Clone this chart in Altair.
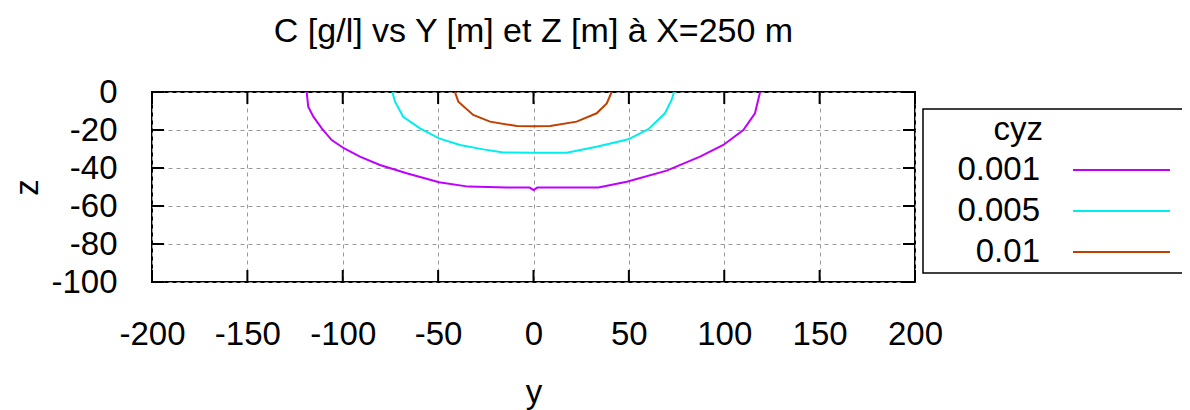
import altair as alt
import pandas as pd

title_text = "C [g/l] vs Y [m] et Z [m] à X=250 m"
levels = ["0.001", "0.005", "0.01"]
colors = ["#c000ff", "#00eeee", "#c04000"]
x_ticks = [-200, -150, -100, -50, 0, 50, 100, 150, 200]
z_ticks = [-100, -80, -60, -40, -20, 0]

# contour 0.001
y_001 = [-118.9, -118.1, -115.4, -111.0, -105.8, -99.4, -91.0, -80.5, -66.5, -49.5, -34.2, -14.0,
         -2.0, 0.0, 2.0, 14.0, 34.0, 48.9, 69.8, 87.3, 99.5, 110.0, 116.1, 118.8]
z_001 = [0.0, -7.7, -13.0, -19.1, -25.3, -29.6, -34.0, -38.4, -42.8, -47.5, -49.8, -50.2,
         -50.3, -51.6, -50.3, -50.2, -50.2, -47.2, -41.4, -34.0, -27.9, -20.0, -11.2, 0.0]
# contour 0.005
y_005 = [-74.0, -72.6, -68.3, -59.5, -49.5, -38.5, -26.3, -15.8, 0.0, 17.4, 33.1, 49.7, 60.2, 68.9, 72.4, 73.7]
z_005 = [0.0, -5.1, -13.0, -19.1, -24.4, -27.9, -30.2, -31.8, -32.0, -32.0, -28.8, -24.9, -19.6, -11.2, -4.2, 0.0]
# contour 0.01
y_01 = [-41.2, -39.4, -31.6, -22.8, -8.8, 0.0, 8.7, 22.6, 33.1, 38.4, 41.0]
z_01 = [0.0, -5.1, -12.1, -15.6, -17.9, -18.0, -17.9, -15.6, -11.2, -6.0, 0.0]

rows = []
for lev, ys, zs in zip(levels, [y_001, y_005, y_01], [z_001, z_005, z_01]):
    for i, (yv, zv) in enumerate(zip(ys, zs)):
        rows.append({"level": lev, "y": yv, "z": zv, "idx": i})
df = pd.DataFrame(rows)

FONT = "Liberation Sans"
FS = 33
W, H = 763, 190

xscale = alt.Scale(domain=[-200, 200], nice=False, zero=False)
zscale = alt.Scale(domain=[-100, 0], nice=False, zero=False)

grid_common = dict(grid=True, gridDash=[4, 4], gridColor="#999999", gridWidth=1,
                   domain=False, ticks=False, labelFont=FONT, labelFontSize=FS,
                   labelColor="black", titleFont=FONT, titleFontSize=FS,
                   titleFontWeight="normal", titleColor="black",
                   labelFlush=False, labelOverlap=False,
                   labelExpr="'' + datum.value")

x_axis = alt.Axis(values=x_ticks, title="y", labelPadding=36,
                  titleY=120, titleBaseline="alphabetic", **grid_common)
y_axis = alt.Axis(values=z_ticks, title="z", labelPadding=35,
                  titleX=-115, titleY=95, titleBaseline="alphabetic", **grid_common)

lines = alt.Chart(df).mark_line(strokeWidth=2).encode(
    x=alt.X("y:Q", scale=xscale, axis=x_axis),
    y=alt.Y("z:Q", scale=zscale, axis=y_axis),
    color=alt.Color("level:N", scale=alt.Scale(domain=levels, range=colors), legend=None),
    order="idx:Q",
)

xt = pd.DataFrame({"y": x_ticks})
zt = pd.DataFrame({"z": z_ticks})
tick_style = dict(color="black", strokeWidth=2)
tb = alt.Chart(xt).mark_rule(**tick_style).encode(
    x=alt.X("y:Q", scale=xscale, axis=x_axis), y=alt.value(H), y2=alt.value(H - 12))
tt = alt.Chart(xt).mark_rule(**tick_style).encode(
    x=alt.X("y:Q", scale=xscale, axis=x_axis), y=alt.value(0), y2=alt.value(12))
tl = alt.Chart(zt).mark_rule(**tick_style).encode(
    y=alt.Y("z:Q", scale=zscale, axis=y_axis), x=alt.value(0), x2=alt.value(12))
tr = alt.Chart(zt).mark_rule(**tick_style).encode(
    y=alt.Y("z:Q", scale=zscale, axis=y_axis), x=alt.value(W), x2=alt.value(W - 12))

one = pd.DataFrame({"a": [0]})
title_mark = alt.Chart(one).mark_text(font=FONT, fontSize=34, align="center", baseline="alphabetic",
                                      color="black").encode(
    x=alt.value(W / 2), y=alt.value(-50), text=alt.value(title_text))
box = alt.Chart(one).mark_rect(fill="white", stroke="black", strokeWidth=1.5).encode(
    x=alt.value(771), x2=alt.value(1035), y=alt.value(17), y2=alt.value(181))
ktitle = alt.Chart(one).mark_text(font=FONT, fontSize=FS, align="right", baseline="middle", color="black").encode(
    x=alt.value(891), y=alt.value(38), text=alt.value("cyz"))

layers = [lines, tb, tt, tl, tr, title_mark, box, ktitle]
for i, (lev, col) in enumerate(zip(levels, colors)):
    yy = 78 + i * 41
    layers.append(alt.Chart(one).mark_text(font=FONT, fontSize=FS, align="right", baseline="middle", color="black").encode(
        x=alt.value(888), y=alt.value(yy), text=alt.value(lev)))
    layers.append(alt.Chart(one).mark_rule(color=col, strokeWidth=2).encode(
        x=alt.value(921), x2=alt.value(1018), y=alt.value(yy)))

chart = alt.layer(*layers).properties(
    width=W, height=H,
    autosize=alt.AutoSizeParams(type="none"),
    padding={"left": 144, "top": 84, "right": 267, "bottom": 130},
).configure_view(stroke="black", strokeWidth=2)

chart.save("out.html", embed_options={"renderer": "svg", "actions": False})
